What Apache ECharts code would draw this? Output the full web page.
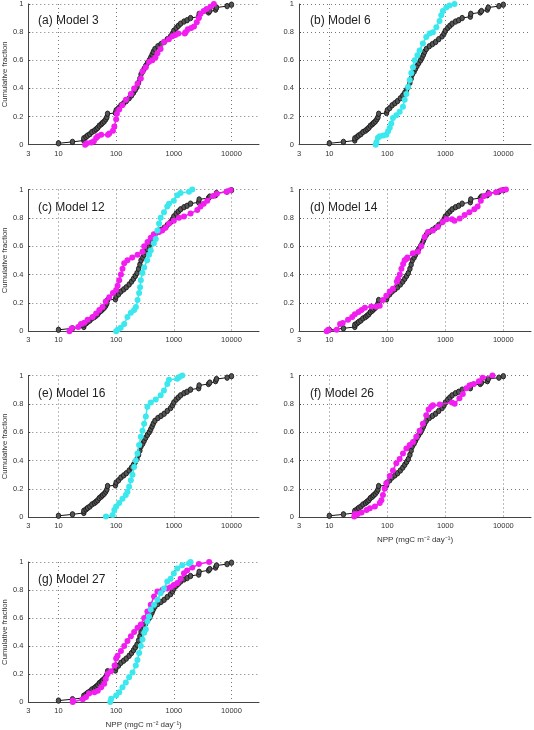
<!DOCTYPE html>
<html><head><meta charset="utf-8">
<script src="https://cdn.jsdelivr.net/npm/echarts@6/dist/echarts.min.js"></script>
<style>html,body{margin:0;padding:0;background:#fff}#c{width:534px;height:730px}</style>
</head><body><div id="c"></div><script>
// ---- data ----
const xTickLabels = [3, 10, 100, 1000, 10000];
const yTickLabels = [0, 0.2, 0.4, 0.6, 0.8, 1];
const panelTitles = ['(a) Model 3','(b) Model 6','(c) Model 12','(d) Model 14','(e) Model 16','(f) Model 26','(g) Model 27'];
const obs = [[10,0.01],[17.5,0.02],[27.5,0.03],[27.5,0.045],[30,0.055],[32,0.065],[35,0.075],[38,0.09],[42,0.1],[45,0.11],[48,0.12],[51,0.135],[55,0.145],[58,0.155],[62,0.165],[66,0.18],[69,0.195],[71,0.22],[97,0.225],[100,0.245],[110,0.26],[121,0.28],[135,0.295],[150,0.31],[168,0.33],[185,0.35],[200,0.37],[215,0.39],[230,0.41],[245,0.44],[258,0.47],[270,0.5],[290,0.52],[306,0.54],[325,0.56],[348,0.58],[375,0.6],[398,0.62],[420,0.64],[440,0.66],[470,0.68],[530,0.7],[600,0.715],[680,0.73],[770,0.75],[880,0.77],[950,0.79],[1000,0.81],[1100,0.83],[1200,0.845],[1310,0.86],[1500,0.875],[1700,0.885],[1950,0.9],[2700,0.91],[2750,0.93],[4000,0.94],[4200,0.95],[5300,0.96],[5500,0.975],[8400,0.985],[10000,0.995]];
const model3 = [[29,0.0],[31,0.01],[37,0.016],[41,0.025],[45,0.047],[48,0.06],[55,0.07],[72,0.07],[76,0.08],[88,0.1],[93,0.13],[100,0.18],[103,0.22],[113,0.25],[128,0.28],[148,0.32],[180,0.36],[205,0.4],[235,0.435],[268,0.47],[286,0.52],[327,0.55],[373,0.59],[425,0.6],[480,0.62],[520,0.65],[590,0.68],[675,0.73],[820,0.75],[945,0.77],[1060,0.78],[1200,0.79],[1550,0.79],[1600,0.8],[1750,0.82],[2000,0.83],[2240,0.84],[2500,0.87],[2720,0.9],[2900,0.93],[3300,0.95],[3700,0.965],[4330,0.98],[4950,1.0]];
const model6 = [[63,0.0],[65,0.02],[69,0.05],[74,0.06],[85,0.065],[96,0.07],[103,0.095],[110,0.12],[117,0.15],[125,0.19],[143,0.21],[163,0.235],[186,0.27],[199,0.32],[213,0.36],[228,0.41],[243,0.46],[259,0.51],[277,0.55],[296,0.6],[330,0.635],[360,0.67],[410,0.72],[469,0.765],[535,0.79],[611,0.8],[700,0.835],[795,0.88],[850,0.92],[907,0.95],[1040,0.976],[1180,0.99],[1440,1.0]];
const model12m = [[15.5,0.0],[17,0.02],[22,0.03],[24.6,0.05],[28,0.06],[32,0.08],[39,0.1],[45,0.125],[51,0.15],[58,0.17],[66,0.21],[76,0.24],[88,0.27],[100,0.29],[106,0.32],[113,0.36],[121,0.4],[129,0.44],[138,0.48],[157,0.5],[190,0.52],[235,0.54],[286,0.56],[306,0.6],[350,0.63],[398,0.66],[450,0.685],[555,0.7],[630,0.71],[720,0.73],[826,0.76],[1000,0.78],[1230,0.8],[1500,0.81],[1950,0.83],[2550,0.855],[2900,0.88],[3300,0.9],[3800,0.92],[4800,0.955],[5600,0.97],[8200,0.985],[9600,0.995]];
const model12c = [[100,0.0],[106,0.01],[120,0.025],[138,0.05],[157,0.1],[180,0.13],[205,0.15],[220,0.17],[235,0.22],[250,0.27],[260,0.31],[268,0.36],[286,0.41],[306,0.45],[345,0.5],[372,0.54],[398,0.57],[450,0.62],[486,0.65],[520,0.71],[555,0.76],[592,0.8],[675,0.84],[770,0.88],[825,0.9],[1000,0.92],[1150,0.96],[1310,0.975],[1830,0.985],[2090,1.0]];
const model14 = [[9.0,0.0],[9.6,0.01],[13.4,0.01],[15.3,0.05],[17,0.057],[21,0.08],[24.8,0.1],[27.6,0.12],[32,0.135],[36,0.15],[41,0.165],[53,0.175],[65,0.175],[74,0.18],[84,0.22],[96,0.25],[110,0.28],[125,0.3],[146,0.35],[153,0.37],[164,0.4],[175,0.44],[187,0.475],[199,0.5],[213,0.51],[222,0.52],[276,0.55],[337,0.56],[385,0.6],[440,0.665],[500,0.7],[610,0.71],[740,0.735],[900,0.77],[1050,0.79],[1300,0.79],[1440,0.78],[1770,0.795],[2150,0.82],[2600,0.84],[3160,0.86],[3600,0.88],[4100,0.92],[4700,0.955],[5700,0.97],[7500,0.98],[9300,0.995],[11100,1.0]];
const model16 = [[66.5,0.005],[87,0.016],[93,0.05],[100,0.075],[113,0.1],[129,0.13],[147,0.157],[157,0.18],[168,0.215],[180,0.26],[192,0.3],[205,0.355],[219,0.4],[234,0.45],[250,0.51],[268,0.567],[286,0.61],[306,0.66],[327,0.71],[348,0.78],[398,0.81],[486,0.83],[592,0.86],[675,0.895],[770,0.94],[825,0.97],[1150,0.977],[1250,0.99],[1400,1.0]];
const model26 = [[26.9,0.005],[27.5,0.023],[31,0.023],[36,0.033],[43.8,0.05],[50,0.063],[61,0.075],[74,0.1],[79,0.12],[84,0.157],[90,0.2],[96,0.24],[110,0.29],[125,0.33],[143,0.38],[163,0.41],[186,0.45],[213,0.485],[243,0.51],[277,0.53],[316,0.567],[360,0.61],[410,0.66],[469,0.72],[515,0.76],[570,0.78],[610,0.79],[800,0.795],[1300,0.81],[1450,0.8],[1750,0.84],[2000,0.87],[2300,0.91],[2600,0.93],[3100,0.94],[3800,0.96],[4400,0.985],[6500,1.0]];
const model27m = [[17.7,0.0],[17.7,0.01],[26.3,0.02],[30,0.035],[34,0.06],[42,0.07],[48,0.08],[55,0.105],[62,0.13],[66,0.165],[71,0.2],[81,0.22],[94,0.26],[100,0.31],[106,0.33],[121,0.365],[138,0.4],[157,0.435],[180,0.47],[205,0.5],[235,0.53],[268,0.553],[306,0.6],[348,0.647],[398,0.694],[454,0.753],[520,0.79],[630,0.8],[770,0.81],[880,0.82],[1000,0.835],[1150,0.85],[1310,0.88],[1500,0.92],[1700,0.94],[2090,0.96],[2720,0.985],[4100,1.0]];
const model27c = [[79,0.0],[82,0.024],[100,0.047],[113,0.07],[129,0.106],[147,0.14],[168,0.176],[192,0.21],[219,0.26],[234,0.3],[250,0.35],[268,0.4],[286,0.447],[306,0.494],[327,0.52],[348,0.576],[372,0.61],[398,0.66],[454,0.694],[520,0.73],[592,0.776],[675,0.81],[770,0.86],[880,0.88],[1000,0.918],[1150,0.953],[1400,0.976],[1830,0.99],[1950,1.0]];
const panelModels = [
  [['m', model3]],
  [['c', model6]],
  [['m', model12m], ['c', model12c]],
  [['m', model14]],
  [['c', model16]],
  [['m', model26]],
  [['m', model27m], ['c', model27c]]
];

// ---- layout / style ----
const FONT = '"Liberation Sans", Arial, sans-serif';
const COLORS = { m: '#f21ef0', c: '#3ae8ee' };
const colLeft = [27, 299], colWidth = [232, 233];
const rowTop = [3, 189.5, 375.5, 562], rowH = 141.7;

const grid = [], xAxis = [], yAxis = [], series = [], title = [];
panelTitles.forEach((t, i) => {
  const col = i % 2, row = Math.floor(i / 2);
  grid.push({ left: colLeft[col], top: rowTop[row], width: colWidth[col], height: rowH, containLabel: false });
  title.push({ text: t, left: colLeft[col] + 6, top: rowTop[row] + 7,
    textStyle: { fontFamily: FONT, fontSize: 12, fontWeight: 'normal', color: '#222' } });
  const showXName = (i === 5 || i === 6);
  xAxis.push({
    type: 'log', logBase: 10, min: xTickLabels[0], max: 30000, gridIndex: i,
    name: showXName ? 'NPP (mgC m\u207B\u00B2 day\u207B\u00B9)' : '',
    nameLocation: 'middle', nameGap: 19,
    nameTextStyle: { fontFamily: FONT, fontSize: 8, color: '#333' },
    axisLine: { show: true, lineStyle: { color: '#444', width: 1 } },
    axisTick: { show: false },
    axisLabel: { fontFamily: FONT, fontSize: 7.5, color: '#333', margin: 5,
      formatter: v => { const r = Math.round(v); return xTickLabels.indexOf(r) >= 0 ? String(r) : ''; } },
    splitLine: { show: true, showMaxLine: false, showMinLine: false, lineStyle: { color: '#777', type: [1, 3], width: 1 } }
  });
  yAxis.push({
    type: 'value', min: 0, max: 1, interval: 0.2, gridIndex: i,
    name: col === 0 ? 'Cumulative fraction' : '',
    nameLocation: 'middle', nameGap: 19, nameRotate: 90,
    nameTextStyle: { fontFamily: FONT, fontSize: 7.7, color: '#333' },
    axisLine: { show: true, lineStyle: { color: '#444', width: 1 } },
    axisTick: { show: true, inside: true, length: 2, lineStyle: { color: '#444' } },
    axisLabel: { fontFamily: FONT, fontSize: 7.5, color: '#333', margin: 5,
      formatter: v => { const r = Math.round(v * 10) / 10; return yTickLabels.indexOf(r) >= 0 ? String(r) : ''; } },
    splitLine: { show: true, showMinLine: false, lineStyle: { color: '#777', type: [1, 3], width: 1 } }
  });
  series.push({
    type: 'line', xAxisIndex: i, yAxisIndex: i, data: obs, z: 2,
    symbol: 'circle', symbolSize: [4.5, 5.5], showAllSymbol: true,
    lineStyle: { color: '#111', width: 1 },
    itemStyle: { color: '#555', borderColor: '#111', borderWidth: 0.8 },
    animation: false, silent: true
  });
  panelModels[i].forEach(([k, d]) => {
    series.push({
      type: 'line', xAxisIndex: i, yAxisIndex: i, data: d, z: 3,
      symbol: 'circle', symbolSize: 6, showAllSymbol: true,
      lineStyle: { color: COLORS[k], width: 1.5 },
      itemStyle: { color: COLORS[k], borderWidth: 0 },
      animation: false, silent: true
    });
  });
});

const chart = echarts.init(document.getElementById('c'), null, { renderer: 'canvas' });
chart.setOption({ backgroundColor: '#fff', animation: false, title, grid, xAxis, yAxis, series });
</script></body></html>
